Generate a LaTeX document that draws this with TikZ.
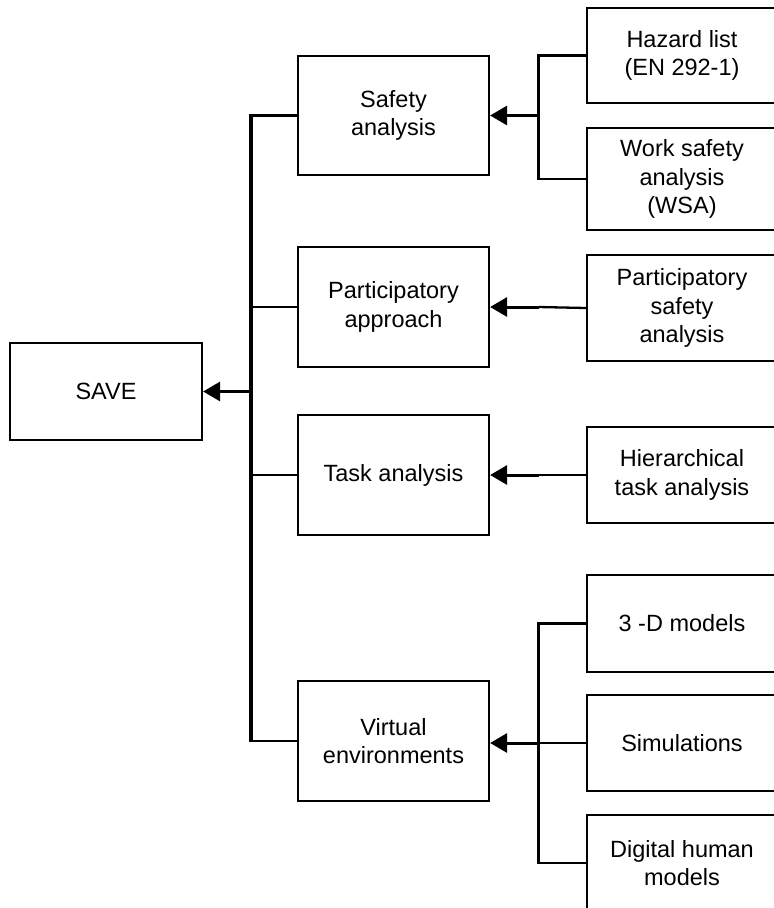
\documentclass[tikz,border=0pt]{standalone}
\usepackage{fontspec}
\setmainfont{Liberation Sans}
\usetikzlibrary{arrows.meta}
\begin{document}
\begin{tikzpicture}[x=1pt,y=-1pt,
  box/.style={draw, line width=2.2pt, align=center, inner sep=0pt,
    font=\fontsize{23.5}{28.5}\selectfont},
  leftbox/.style={box, minimum width=191pt, minimum height=120pt},
  rightbox/.style={box, minimum width=190pt},
  link/.style={line width=2.3pt},
  trunk/.style={line width=3.1pt, shorten <=-1.15pt, shorten >=-1.15pt},
  feed/.style={line width=3pt, -{Triangle[length=17pt,width=19pt]}},
]
\useasboundingbox (0,0) rectangle (774,908);

% root
\node[box, minimum width=192pt, minimum height=97pt] (save) at (106,391.5) {SAVE};

% middle column
\node[leftbox, minimum height=119pt] (safety) at (393.5,115.5) {Safety\\analysis};
\node[leftbox] (part) at (393.5,307) {Participatory\\approach};
\node[leftbox] (task) at (393.5,475) {Task analysis};
\node[leftbox] (ve)   at (393.5,741) {Virtual\\environments};

% right column (runs past the right edge)
\node[rightbox, minimum height=95pt]  (hazard) at (682,55.5) {Hazard list\\(EN 292-1)};
\node[rightbox, minimum height=102pt] (wsa)    at (682,179)  {Work safety\\analysis\\(WSA)};
\node[rightbox, minimum height=106pt] (psa)    at (682,308)  {Participatory\\safety\\analysis};
\node[rightbox, minimum height=96pt]  (hta)    at (682,475)  {Hierarchical\\task analysis};
\node[rightbox, minimum height=97pt]  (d3)     at (682,623.5){3 -D models};
\node[rightbox, minimum height=96pt]  (sim)    at (682,743)  {Simulations};
\node[rightbox, minimum height=96pt]  (dhm)    at (682,863)  {Digital human\\models};

% trunk and branch positions
\coordinate (tx) at (251,0);
\coordinate (bx) at (538.5,0);

% trunk feeding SAVE
\draw[trunk] (tx |- safety.west) -- (tx |- ve.west);
\draw[link] (safety.west) -- (tx |- safety.west);
\draw[link] (part.west) -- (tx |- part.west);
\draw[link] (task.west) -- (tx |- task.west);
\draw[link] (ve.west) -- (tx |- ve.west);
\draw[feed] (tx |- save.east) -- (save.east);

% safety analysis inputs
\draw[trunk] (bx |- hazard.west) -- (bx |- wsa.west);
\draw[link] (hazard.west) -- (bx |- hazard.west);
\draw[link] (wsa.west) -- (bx |- wsa.west);
\draw[feed] (bx |- safety.east) -- (safety.east);

% participatory approach input
\draw[link] (psa.west) -- (bx |- part.east);
\draw[feed] (bx |- part.east) -- (part.east);

% task analysis input
\draw[link] (hta.west) -- (bx |- task.east);
\draw[feed] (bx |- task.east) -- (task.east);

% virtual environments inputs
\draw[trunk] (bx |- d3.west) -- (bx |- dhm.west);
\draw[link] (d3.west) -- (bx |- d3.west);
\draw[link] (sim.west) -- (bx |- sim.west);
\draw[link] (dhm.west) -- (bx |- dhm.west);
\draw[feed] (bx |- sim.west) -- (ve.east |- sim.west);
\end{tikzpicture}
\end{document}
